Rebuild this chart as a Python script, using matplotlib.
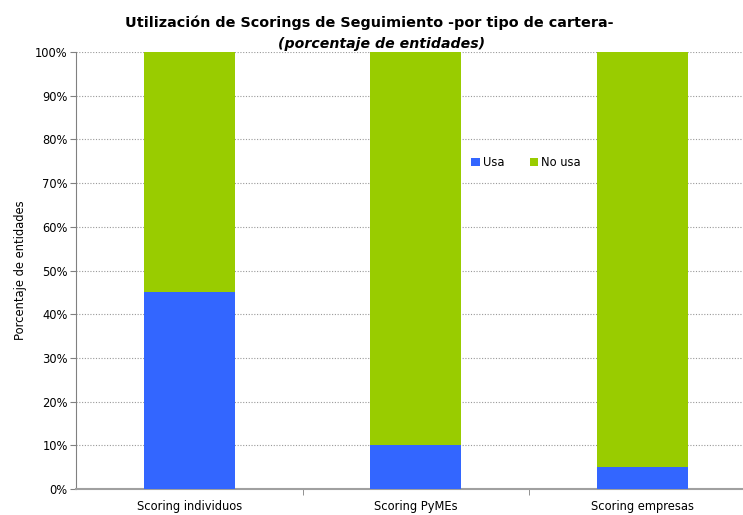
import matplotlib.pyplot as plt
from matplotlib.ticker import FixedLocator, PercentFormatter

categorias = ['Scoring individuos', 'Scoring PyMEs', 'Scoring empresas']
usa = [45, 10, 5]
no_usa = [55, 90, 95]

azul = '#3366FF'
verde = '#99CC00'

fig = plt.figure(figsize=(7.43, 5.15), dpi=100)
ax = fig.add_axes([76 / 743, 26 / 515, (743 - 76) / 743, 437 / 515])

x = range(len(categorias))
ax.bar(x, usa, width=0.40, color=azul, label='Usa', zorder=3)
ax.bar(x, no_usa, width=0.40, bottom=usa, color=verde, label='No usa', zorder=3)

ax.set_xlim(-0.5, -0.5 + (743 - 76) / 226.5)
ax.set_ylim(0, 100)
ax.set_yticks(range(0, 101, 10))
ax.yaxis.set_major_formatter(PercentFormatter(decimals=0))
ax.set_xticks(list(x))
ax.set_xticklabels(categorias, fontsize=8.3)
ax.tick_params(axis='x', length=0, pad=8)
ax.xaxis.set_minor_locator(FixedLocator([0.5, 1.5]))
ax.tick_params(axis='x', which='minor', length=4, color='#808080')
ax.tick_params(axis='y', labelsize=8.3, length=4, color='#808080', pad=2)

ax.grid(axis='y', linestyle=(0, (1, 1.5)), color='#999999', linewidth=0.8, zorder=0)
for s in ['top', 'right']:
    ax.spines[s].set_visible(False)
ax.spines['left'].set_color('#808080')
ax.spines['bottom'].set_color('#a0a0a0')
ax.spines['bottom'].set_linewidth(1.5)

ax.set_ylabel('Porcentaje de entidades', fontsize=8.3, labelpad=6)

leg = ax.legend(loc='center', bbox_to_anchor=(0.675, 0.746), ncol=2, frameon=True,
                fontsize=8.3, handlelength=0.7, handleheight=0.7, handletextpad=0.3,
                columnspacing=2.2, borderpad=0.9, borderaxespad=0, fancybox=False)
leg.get_frame().set_edgecolor('none')
leg.get_frame().set_facecolor('white')
leg.get_frame().set_alpha(1)

fig.text(0.497, 0.955, 'Utilización de Scorings de Seguimiento -por tipo de cartera-',
         ha='center', va='center', fontsize=10.4, fontweight='bold')
fig.text(0.514, 0.914, '(porcentaje de entidades)', ha='center', va='center',
         fontsize=10.2, fontweight='bold', style='italic')

fig.savefig('out.png', dpi=100)
